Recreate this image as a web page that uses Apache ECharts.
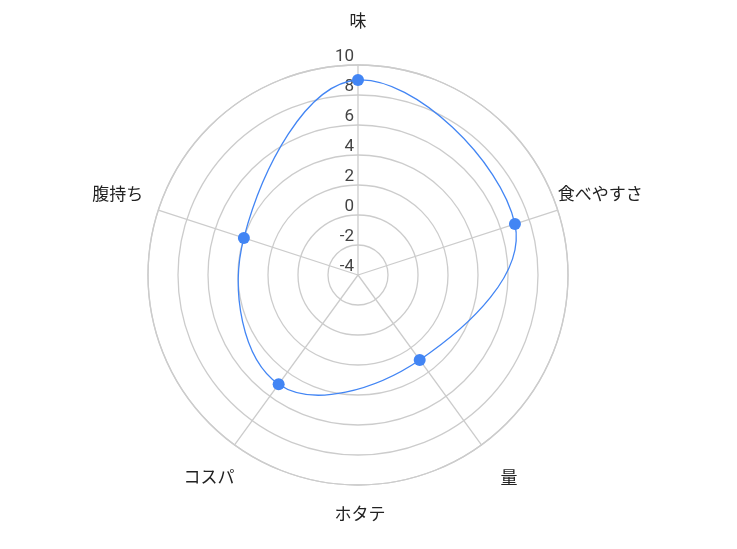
<!DOCTYPE html>
<html>
<head>
<meta charset="utf-8">
<script src="https://cdn.jsdelivr.net/npm/echarts@6/dist/echarts.min.js"></script>
<style>
  html, body { margin: 0; padding: 0; background: #fff; }
  #chart { width: 737px; height: 549px; }
</style>
</head>
<body>
<div id="chart"></div>
<script>
const axisNames = ['味', '食べやすさ', '量', 'コスパ', '腹持ち'];
const scores = [9, 7, 3, 5, 4];
const seriesName = 'ホタテ';
const scaleMin = -4;
const scaleMax = 10;
const scaleStep = 2;

const font = 'Roboto, "Noto Sans CJK JP", sans-serif';
const blue = '#4285f4';
const gridColor = '#cccccc';
const tension = 0.4;

const chart = echarts.init(document.getElementById('chart'));

// points as [radius, angleIndex] for the polar system
const points = scores.map((v, i) => [v, i]);

// closed spline through the screen points, one bezier per side
function splineSegments(pts) {
    const n = pts.length;
    const cps = pts.map((p, i) => {
        const prev = pts[(i - 1 + n) % n];
        const next = pts[(i + 1) % n];
        const d01 = Math.hypot(p[0] - prev[0], p[1] - prev[1]);
        const d12 = Math.hypot(next[0] - p[0], next[1] - p[1]);
        const s = d01 + d12 || 1;
        const fa = tension * d01 / s;
        const fb = tension * d12 / s;
        const vx = next[0] - prev[0];
        const vy = next[1] - prev[1];
        return {
            before: [p[0] - fa * vx, p[1] - fa * vy],
            after: [p[0] + fb * vx, p[1] + fb * vy]
        };
    });
    return pts.map((p, i) => {
        const j = (i + 1) % n;
        return {
            type: 'bezierCurve',
            shape: {
                x1: p[0], y1: p[1],
                x2: pts[j][0], y2: pts[j][1],
                cpx1: cps[i].after[0], cpy1: cps[i].after[1],
                cpx2: cps[j].before[0], cpy2: cps[j].before[1]
            },
            style: { fill: 'none', stroke: blue, lineWidth: 1.3 }
        };
    });
}

const option = {
    backgroundColor: '#fff',
    title: {
        text: seriesName,
        left: 360,
        top: 507,
        textAlign: 'center',
        padding: 0,
        textStyle: { fontFamily: font, fontSize: 17, fontWeight: 'normal', color: '#222' }
    },
    polar: {
        center: [358, 275],
        radius: 210
    },
    angleAxis: {
        type: 'value',
        min: 0,
        max: axisNames.length,
        interval: 1,
        startAngle: 90,
        clockwise: true,
        axisLine: { show: true, lineStyle: { color: gridColor, width: 1.3 } },
        axisTick: { show: false },
        splitLine: { show: true, lineStyle: { color: gridColor, width: 1.3 } },
        axisLabel: {
            margin: 0,
            fontFamily: font,
            fontSize: 17,
            color: '#222',
            // nudge each name to where it sits in the picture
            formatter: (value) => {
                const name = axisNames[value];
                return name && value < axisNames.length ? '{n' + value + '|' + name + '}' : '';
            },
            rich: {
                n0: { fontFamily: font, fontSize: 17, color: '#222', padding: [0, 0, 34, 0] },
                n1: { fontFamily: font, fontSize: 17, color: '#222', padding: [0, 0, 6, 0] },
                n2: { fontFamily: font, fontSize: 17, color: '#222', padding: [26, 0, 0, 19] },
                n3: { fontFamily: font, fontSize: 17, color: '#222', padding: [25, 0, 0, 0] },
                n4: { fontFamily: font, fontSize: 17, color: '#222', padding: [0, 15, 6, 0] }
            }
        }
    },
    radiusAxis: {
        min: scaleMin,
        max: scaleMax,
        interval: scaleStep,
        axisLine: { show: false },
        axisTick: { show: false },
        splitLine: { show: true, lineStyle: { color: gridColor, width: 1.3 } },
        axisLabel: {
            fontFamily: font,
            fontSize: 17,
            color: '#444',
            align: 'right',
            verticalAlign: 'bottom',
            margin: 4
        }
    },
    series: [
        {
            type: 'custom',
            coordinateSystem: 'polar',
            data: points,
            silent: true,
            z: 2,
            renderItem: (params, api) => {
                if (params.dataIndex !== 0) return null;
                const pts = points.map(p => api.coord(p));
                return { type: 'group', children: splineSegments(pts) };
            }
        },
        {
            type: 'scatter',
            coordinateSystem: 'polar',
            data: points,
            symbol: 'circle',
            symbolSize: 12,
            z: 3,
            itemStyle: { color: blue, opacity: 1 }
        }
    ]
};
chart.setOption(option);
</script>
</body>
</html>
